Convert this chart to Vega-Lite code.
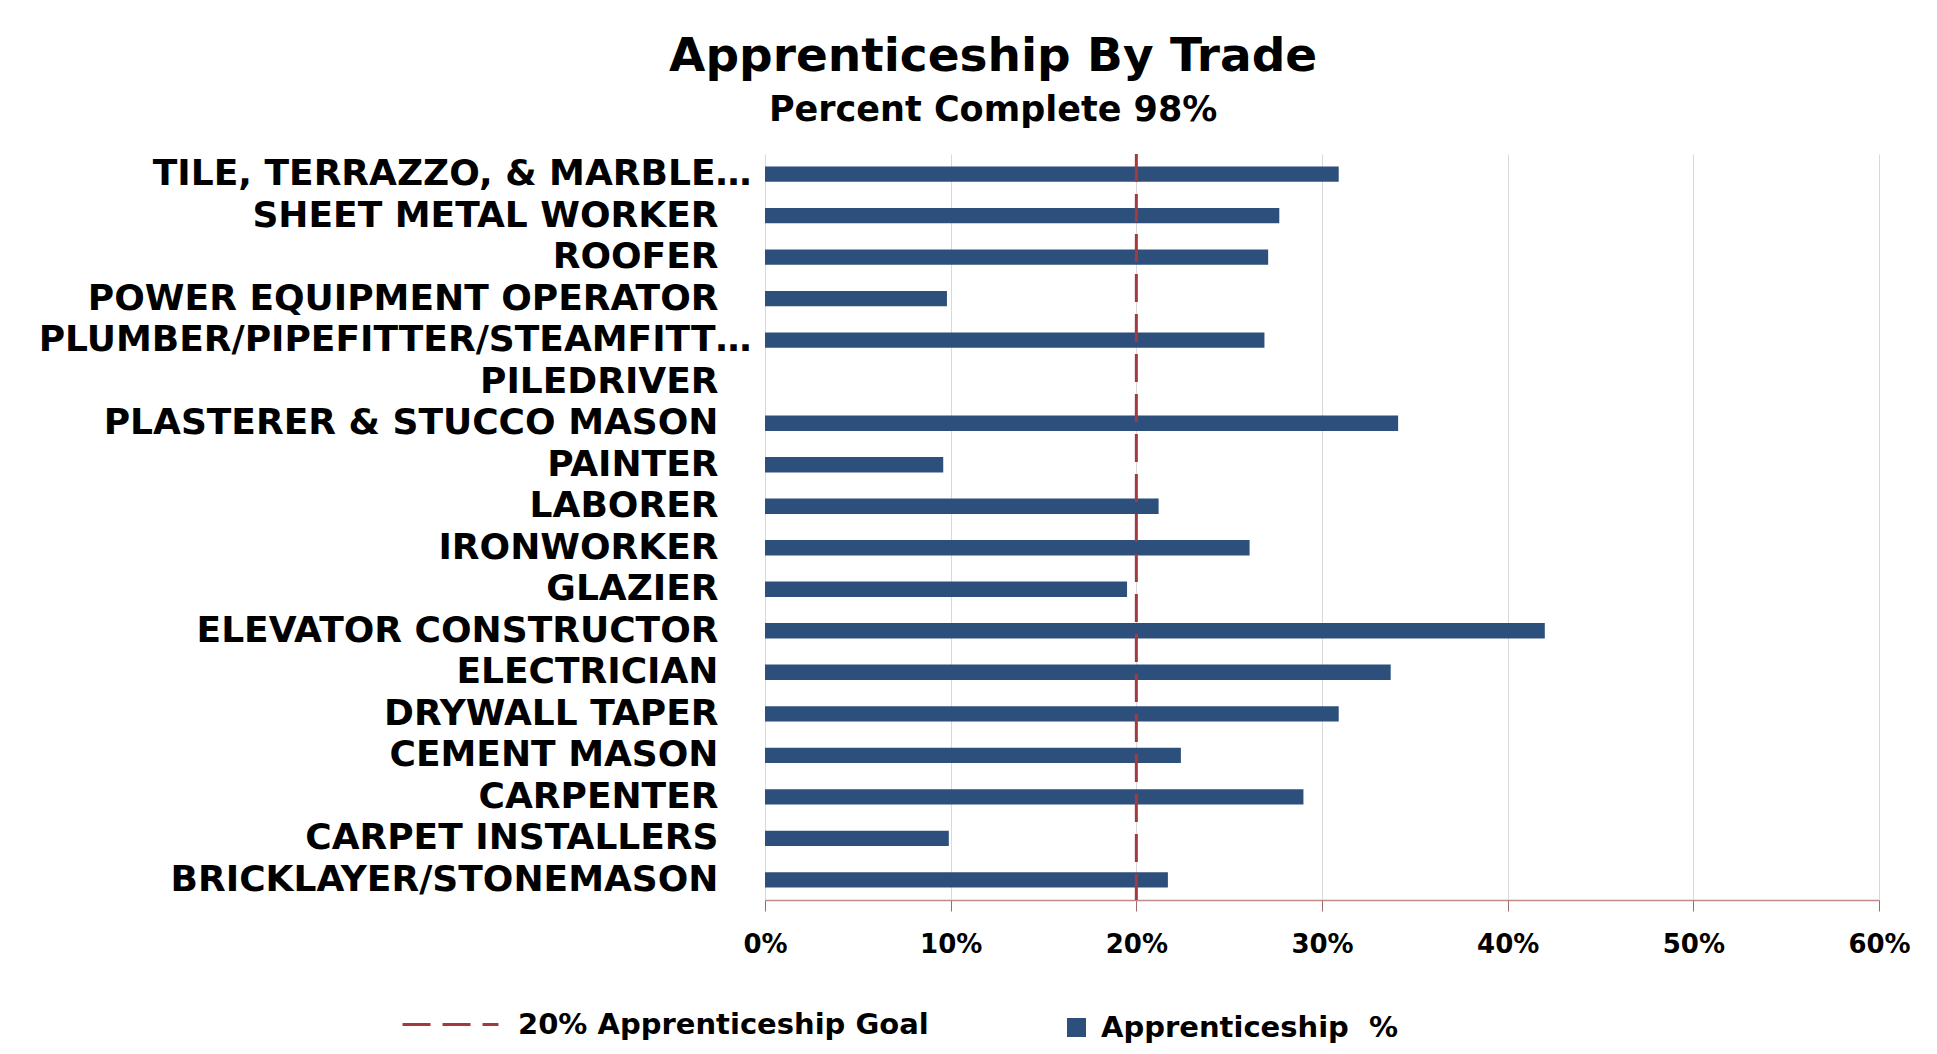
{
  "$schema": "https://vega.github.io/schema/vega-lite/v6.json",
  "autosize": {"type": "none"},
  "padding": {"left": 765, "top": 154, "right": 58, "bottom": 154},
  "width": 1114,
  "height": 746,
  "background": "white",
  "title": {
    "text": "Apprenticeship By Trade",
    "subtitle": "Percent Complete 98%",
    "anchor": "middle",
    "frame": "bounds",
    "dx": 19,
    "font": "DejaVu Sans",
    "fontSize": 47,
    "fontWeight": "bold",
    "color": "#000000",
    "subtitleFont": "DejaVu Sans",
    "subtitleFontSize": 35,
    "subtitleFontWeight": "bold",
    "subtitleColor": "#000000",
    "subtitlePadding": 12,
    "offset": 24
  },
  "config": {
    "font": "DejaVu Sans",
    "view": {"stroke": null}
  },
  "layer": [
    {
      "data": {
        "values": [
          {"trade": "TILE, TERRAZZO, & MARBLE…", "pct": 0.309},
          {"trade": "SHEET METAL WORKER", "pct": 0.277},
          {"trade": "ROOFER", "pct": 0.271},
          {"trade": "POWER EQUIPMENT OPERATOR", "pct": 0.098},
          {"trade": "PLUMBER/PIPEFITTER/STEAMFITT…", "pct": 0.269},
          {"trade": "PILEDRIVER", "pct": 0},
          {"trade": "PLASTERER & STUCCO MASON", "pct": 0.341},
          {"trade": "PAINTER", "pct": 0.096},
          {"trade": "LABORER", "pct": 0.212},
          {"trade": "IRONWORKER", "pct": 0.261},
          {"trade": "GLAZIER", "pct": 0.195},
          {"trade": "ELEVATOR CONSTRUCTOR", "pct": 0.420},
          {"trade": "ELECTRICIAN", "pct": 0.337},
          {"trade": "DRYWALL TAPER", "pct": 0.309},
          {"trade": "CEMENT MASON", "pct": 0.224},
          {"trade": "CARPENTER", "pct": 0.290},
          {"trade": "CARPET INSTALLERS", "pct": 0.099},
          {"trade": "BRICKLAYER/STONEMASON", "pct": 0.217}
        ]
      },
      "mark": {"type": "bar"},
      "encoding": {
        "y": {
          "field": "trade",
          "type": "nominal",
          "sort": null,
          "scale": {"paddingInner": 0.63, "paddingOuter": 0.3},
          "axis": {
            "title": null,
            "labelFont": "DejaVu Sans",
            "labelFontSize": 36,
            "labelFontWeight": "bold",
            "labelColor": "#000000",
            "labelPadding": {
              "condition": {
                "test": "datum.value === 'TILE, TERRAZZO, & MARBLE…' || datum.value === 'PLUMBER/PIPEFITTER/STEAMFITT…'",
                "value": 14
              },
              "value": 47
            },
            "labelLimit": 2000,
            "ticks": false,
            "domain": false,
            "grid": false
          }
        },
        "x": {
          "field": "pct",
          "type": "quantitative",
          "scale": {"domain": [0, 0.6], "nice": false},
          "axis": {
            "title": null,
            "values": [0, 0.1, 0.2, 0.3, 0.4, 0.5, 0.6],
            "format": ".0%",
            "labelFont": "DejaVu Sans",
            "labelFontSize": 26,
            "labelFontWeight": "bold",
            "labelColor": "#000000",
            "labelPadding": 20,
            "labelFlush": false,
            "labelOverlap": false,
            "tickSize": 11,
            "tickColor": "#a06a6a",
            "domainColor": "#c08a8a",
            "domainWidth": 1.5,
            "grid": true,
            "gridColor": "#d9d9d9",
            "gridWidth": 1
          }
        },
        "color": {
          "datum": "Apprenticeship \u00a0%",
          "type": "nominal",
          "scale": {"range": ["#2D4F7C"]},
          "legend": {
            "title": null,
            "orient": "none",
            "legendX": 297,
            "legendY": 859,
            "symbolType": "square",
            "symbolSize": 361,
            "symbolStrokeWidth": 0,
            "labelFont": "DejaVu Sans",
            "labelFontSize": 29,
            "labelFontWeight": "bold",
            "labelColor": "#000000",
            "labelOffset": 10,
            "labelLimit": 1000,
            "padding": 0
          }
        }
      }
    },
    {
      "data": {
        "values": [
          {"goal": 0.2, "series": "20% Apprenticeship Goal"}
        ]
      },
      "mark": {"type": "rule", "color": "#a33a3f", "strokeWidth": 3},
      "encoding": {
        "x": {"field": "goal", "type": "quantitative"},
        "strokeDash": {
          "field": "series",
          "type": "nominal",
          "scale": {"range": [[28, 12]]},
          "legend": {
            "title": null,
            "orient": "none",
            "legendX": -364,
            "legendY": 821,
            "symbolType": "stroke",
            "symbolSize": 9200,
            "symbolStrokeWidth": 3,
            "symbolStrokeColor": "#a33a3f",
            "labelFont": "DejaVu Sans",
            "labelFontSize": 29,
            "labelFontWeight": "bold",
            "labelColor": "#000000",
            "labelOffset": 18,
            "labelLimit": 1000,
            "padding": 0
          }
        }
      }
    }
  ]
}
